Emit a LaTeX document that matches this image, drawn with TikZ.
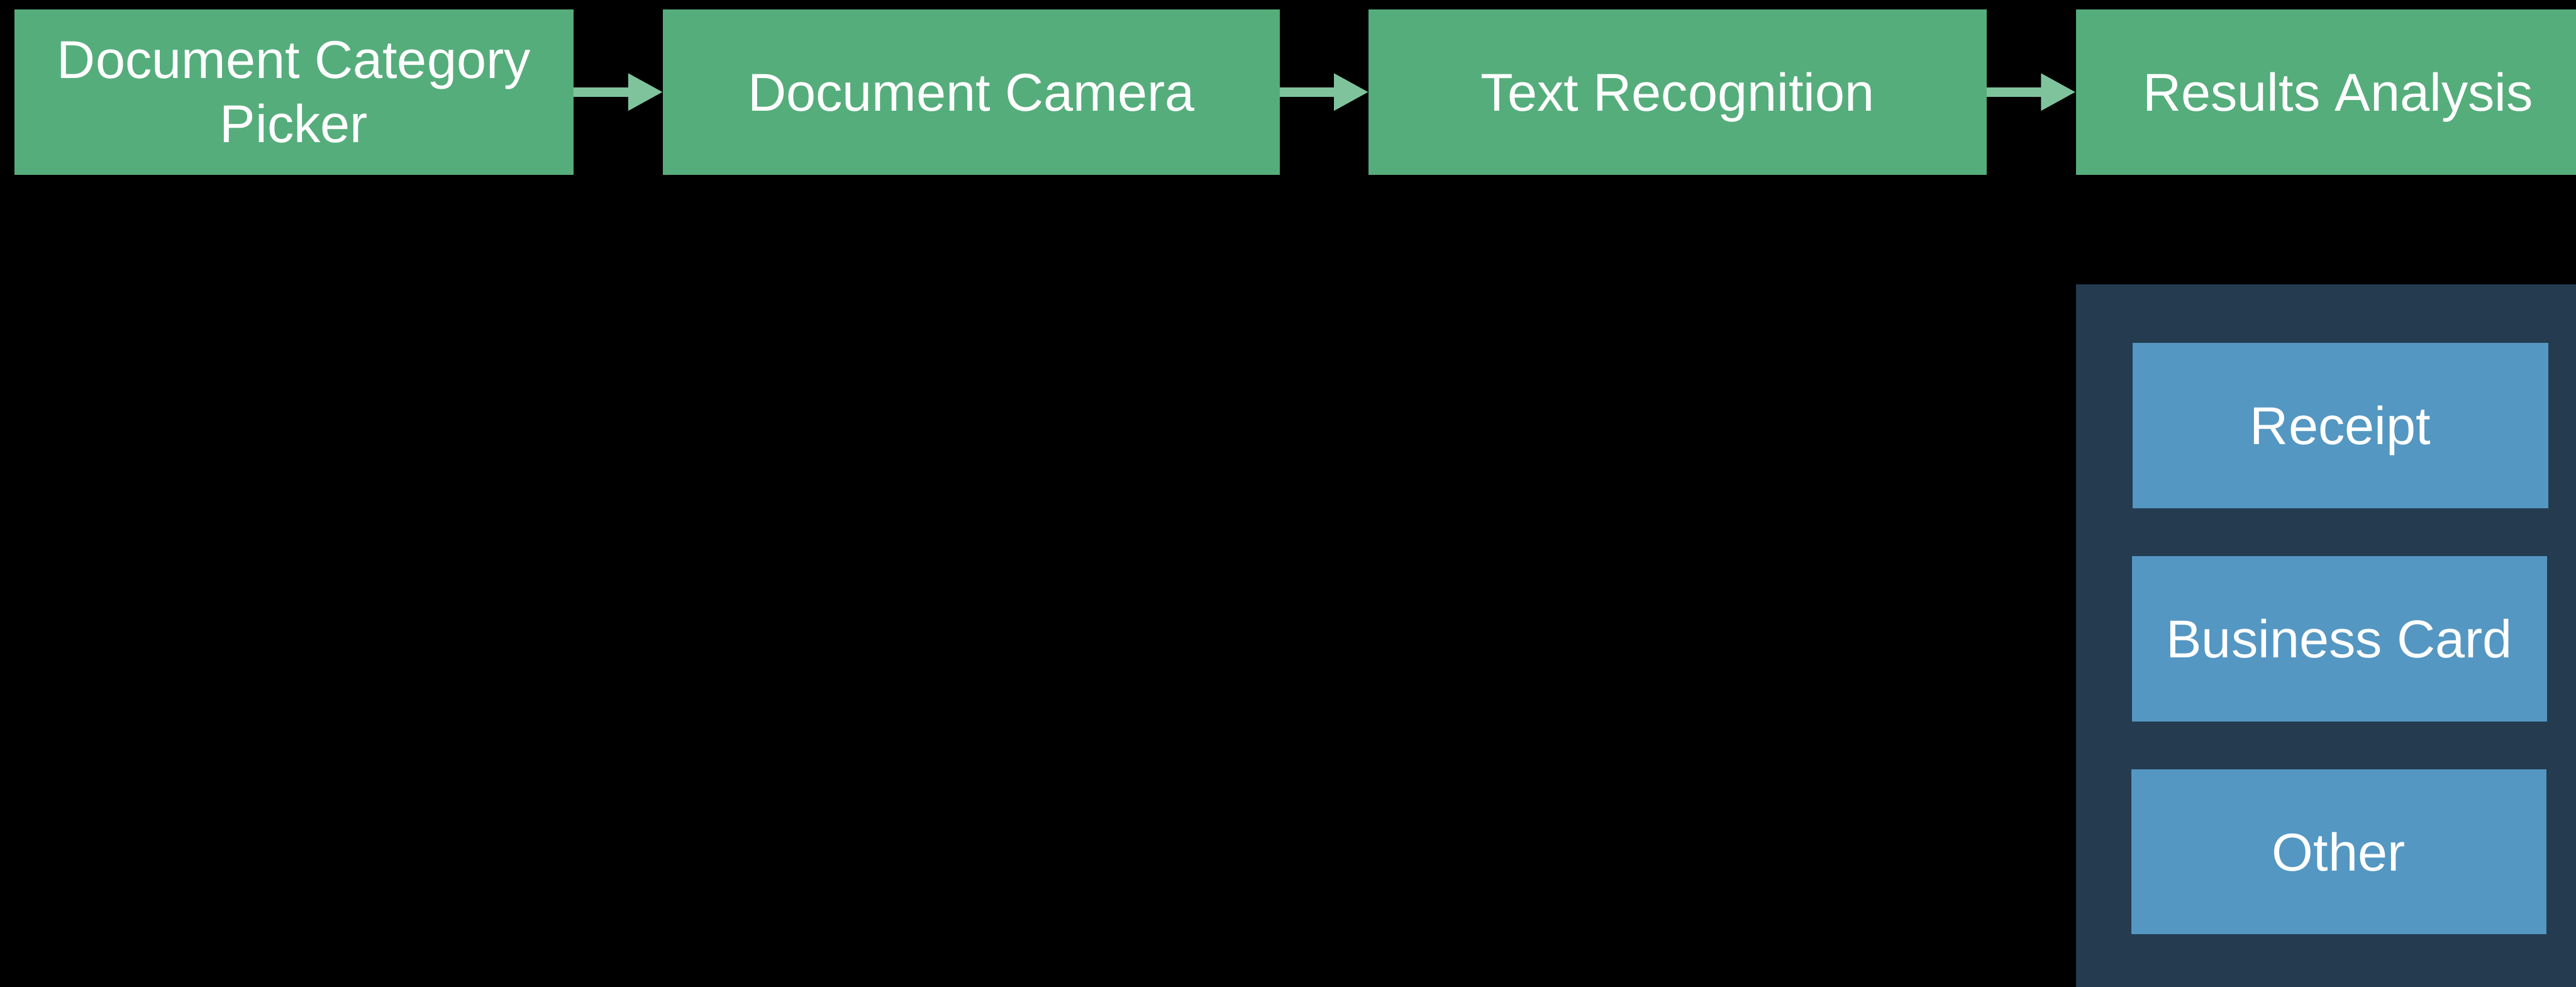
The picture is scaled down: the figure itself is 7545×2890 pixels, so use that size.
\documentclass[tikz,border=0pt]{standalone}
\usepackage{fontspec}
\setmainfont{Liberation Sans}
\usetikzlibrary{arrows.meta}
\definecolor{boxgreen}{HTML}{55AD7B}
\definecolor{arrowgreen}{HTML}{7FC39C}
\definecolor{panelblue}{HTML}{243B50}
\definecolor{catblue}{HTML}{5497C2}
\begin{document}
\begin{tikzpicture}[x=0.1pt,y=-0.1pt,
  base/.style={draw=none, inner sep=0pt, outer sep=0pt, text=white,
    font=\fontsize{15.6pt}{18.8pt}\selectfont},
  oneline/.style={text height=11.17pt, text depth=0pt},
  stage/.style={base, fill=boxgreen, minimum height=48.5pt},
  cat/.style={base, oneline, fill=catblue, minimum width=121.6pt, minimum height=48.4pt},
  panel/.style={draw=none, inner sep=0pt, outer sep=0pt, fill=panelblue},
  flow/.style={draw=arrowgreen, line width=2.7pt,
    -{Triangle[length=10.2pt,width=10.2pt]}}]
\useasboundingbox (0,0) rectangle (7545,2890);
\clip (0,0) rectangle (7545,2890);
\fill[black] (0,0) rectangle (7545,2890);

% pipeline stages
\node[stage, align=center, minimum width=163.8pt] (b1) at (861,269.5)
  {Document Category\\Picker};
\node[stage, oneline, minimum width=180.6pt] (b2) at (2845,269.5) {Document Camera};
\node[stage, oneline, minimum width=181pt] (b3) at (4914,269.5) {Text Recognition};
\node[stage, oneline, minimum width=153.6pt] (b4) at (6848,269.5) {Results Analysis};

\draw[flow] (b1) -- (b2);
\draw[flow] (b2) -- (b3);
\draw[flow] (b3) -- (b4);

% categories panel
\node[panel, anchor=north west, minimum width=154pt, minimum height=215pt] (pnl) at (6080,832) {};
\node[cat] (receipt) at (6855,1246) {Receipt};
\node[cat] (bcard) at (6852,1870.5) {Business Card};
\node[cat] (other) at (6850,2494) {Other};
\end{tikzpicture}
\end{document}
